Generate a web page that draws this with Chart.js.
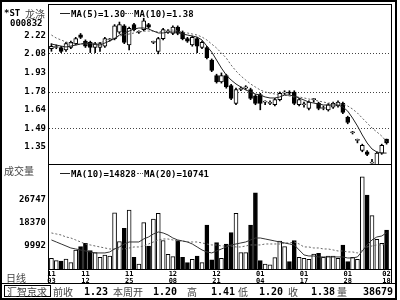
<!DOCTYPE html>
<html>
<head>
<meta charset="utf-8">
<script src="https://cdn.jsdelivr.net/npm/chart.js@4"></script>
<style>
body{margin:0;width:400px;height:300px;position:relative;overflow:hidden;background:#fff}
canvas{display:block}
.b{position:absolute;background:#000}
.t{position:absolute;white-space:nowrap;line-height:1}
.n{font:bold 9px "DejaVu Sans Mono";color:#000}
.m{font:bold 10px "DejaVu Sans Mono";color:#000}
.c{font:10px "Noto Sans CJK SC";color:#444}
.sl{position:absolute;height:0;border-top:1px solid #222}
.dl{position:absolute;height:0;border-top:1px dotted #555}
</style>
</head>
<body>
<!-- frame -->
<div class="b" style="left:0;top:0;width:397px;height:2px"></div>
<div class="b" style="left:0;top:0;width:2px;height:300px"></div>
<div class="b" style="left:395px;top:0;width:2px;height:300px"></div>
<div class="b" style="left:48px;top:4px;width:344px;height:1px"></div>
<div class="b" style="left:391px;top:4px;width:1px;height:279px"></div>
<div class="b" style="left:48px;top:4px;width:1px;height:279px"></div>
<div class="b" style="left:48px;top:164px;width:343px;height:1px"></div>
<div class="b" style="left:48px;top:269px;width:343px;height:1px"></div>
<div class="b" style="left:0;top:283px;width:397px;height:1px"></div>
<div class="b" style="left:0;top:298px;width:397px;height:2px"></div>

<div style="position:absolute;left:0;top:5px;width:392px;height:159px"><canvas id="pc" width="392" height="159"></canvas></div>
<div style="position:absolute;left:0;top:165px;width:392px;height:118px"><canvas id="vc" width="392" height="118"></canvas></div>

<!-- left labels -->
<div class="t n" style="left:4px;top:8px">*ST</div>
<div class="t c" style="left:25px;top:6px">龙涤</div>
<div class="t n" style="left:10px;top:18px">000832</div>
<div class="t c" style="left:4px;top:163px">成交量</div>
<div class="t c" style="left:6px;top:270px">日线</div>

<!-- legends -->
<div class="sl" style="left:60px;top:13px;width:10px"></div>
<div class="t n" style="left:71px;top:9px">MA(5)=1.30</div>
<div class="dl" style="left:125px;top:13px;width:8px"></div>
<div class="t n" style="left:134px;top:9px">MA(10)=1.38</div>

<div class="sl" style="left:60px;top:173px;width:10px"></div>
<div class="t n" style="left:71px;top:169px">MA(10)=14828</div>
<div class="dl" style="left:137px;top:173px;width:6px"></div>
<div class="t n" style="left:144px;top:169px">MA(20)=10741</div>

<!-- status bar -->
<div style="position:absolute;left:4px;top:285px;width:45px;height:10px;border:1px solid #000"></div>
<div class="t c" style="left:7px;top:284px">汇智京求</div>
<div class="t c" style="left:53px;top:284px">前收</div>
<div class="t m" style="left:84px;top:286px">1.23</div>
<div class="t c" style="left:113px;top:284px">本周开</div>
<div class="t m" style="left:153px;top:286px">1.20</div>
<div class="t c" style="left:187px;top:284px">高</div>
<div class="t m" style="left:211px;top:286px">1.41</div>
<div class="t c" style="left:238px;top:284px">低</div>
<div class="t m" style="left:259px;top:286px">1.20</div>
<div class="t c" style="left:288px;top:284px">收</div>
<div class="t m" style="left:311px;top:286px">1.38</div>
<div class="t c" style="left:337px;top:284px">量</div>
<div class="t m" style="left:363px;top:286px">38679</div>

<script>
// daily candles, 2004-11-03 .. 2005-02-18
const opens = [2.12,2.13,2.13,2.11,2.13,2.16,2.23,2.18,2.17,2.13,
  2.13,2.14,2.19,2.20,2.25,2.30,2.15,2.31,2.25,2.27,
  2.31,2.17,2.10,2.20,2.25,2.24,2.29,2.25,2.20,2.15,
  2.20,2.13,2.13,2.03,1.91,1.86,1.91,1.83,1.69,1.80,
  1.81,1.80,1.75,1.76,1.70,1.69,1.68,1.72,1.77,1.78,
  1.78,1.68,1.68,1.65,1.72,1.69,1.65,1.64,1.66,1.67,
  1.69,1.58,1.46,1.40,1.32,1.31,1.22,1.20,1.30,1.41];
const closes = [2.14,2.13,2.10,2.16,2.17,2.20,2.21,2.14,2.13,2.16,
  2.16,2.20,2.19,2.30,2.31,2.17,2.28,2.27,2.25,2.34,
  2.29,2.17,2.20,2.27,2.26,2.29,2.24,2.20,2.18,2.21,
  2.14,2.17,2.05,1.95,1.86,1.91,1.82,1.73,1.80,1.81,
  1.82,1.73,1.69,1.69,1.70,1.69,1.72,1.77,1.78,1.77,
  1.69,1.72,1.68,1.70,1.72,1.65,1.65,1.68,1.69,1.70,
  1.62,1.54,1.46,1.40,1.36,1.29,1.23,1.30,1.36,1.38];
const highs = [2.16,2.15,2.14,2.17,2.18,2.21,2.24,2.19,2.18,2.17,
  2.17,2.21,2.20,2.31,2.33,2.31,2.29,2.32,2.26,2.36,
  2.32,2.18,2.21,2.28,2.27,2.30,2.30,2.26,2.21,2.22,
  2.21,2.18,2.14,2.04,1.92,1.93,1.92,1.84,1.81,1.82,
  1.83,1.81,1.76,1.77,1.71,1.71,1.73,1.78,1.79,1.79,
  1.79,1.73,1.70,1.71,1.73,1.70,1.67,1.69,1.70,1.71,
  1.70,1.59,1.47,1.41,1.37,1.32,1.25,1.31,1.37,1.41];
const lows = [2.10,2.12,2.09,2.10,2.12,2.15,2.20,2.13,2.09,2.09,
  2.10,2.13,2.18,2.19,2.24,2.16,2.11,2.26,2.24,2.26,
  2.28,2.16,2.08,2.19,2.24,2.23,2.23,2.19,2.17,2.14,
  2.09,2.12,2.04,1.94,1.85,1.85,1.81,1.72,1.68,1.79,
  1.80,1.72,1.68,1.64,1.68,1.68,1.67,1.71,1.76,1.76,
  1.68,1.67,1.66,1.64,1.70,1.64,1.64,1.63,1.65,1.66,
  1.61,1.53,1.45,1.38,1.31,1.28,1.22,1.20,1.29,1.37];
const ma5 = [2.157,2.149,2.141,2.134,2.141,2.149,2.157,2.165,2.161,2.153,
  2.149,2.165,2.181,2.200,2.228,2.244,2.259,2.275,2.283,2.283,
  2.275,2.259,2.244,2.244,2.251,2.251,2.251,2.236,2.228,2.220,
  2.212,2.189,2.141,2.094,2.031,1.968,1.913,1.874,1.843,1.819,
  1.796,1.780,1.764,1.756,1.741,1.733,1.733,1.741,1.756,1.756,
  1.748,1.733,1.717,1.701,1.693,1.686,1.678,1.678,1.678,1.678,
  1.662,1.630,1.575,1.513,1.442,1.379,1.332,1.308,1.300,1.300];
const ma10 = [2.228,2.204,2.189,2.173,2.165,2.157,2.157,2.157,2.161,2.165,
  2.165,2.181,2.192,2.204,2.220,2.228,2.236,2.244,2.251,2.259,
  2.259,2.259,2.251,2.259,2.267,2.267,2.259,2.251,2.244,2.236,
  2.228,2.212,2.189,2.157,2.126,2.086,2.047,1.992,1.945,1.906,
  1.874,1.843,1.819,1.796,1.780,1.772,1.764,1.756,1.756,1.748,
  1.741,1.741,1.733,1.725,1.717,1.709,1.701,1.693,1.693,1.686,
  1.686,1.670,1.646,1.615,1.575,1.536,1.497,1.466,1.434,1.390];
const volume = [5530,4650,4540,5270,3920,8550,9750,10970,8290,7560,
  5890,6730,6360,22120,11570,16440,23110,5890,3450,18480,
  10000,19830,21900,12000,6980,6110,11930,5890,3920,5160,
  6360,3920,17650,4910,11210,5520,10730,14850,21900,7570,
  7570,17650,29400,4650,3450,3090,5750,11820,9750,4290,
  11930,5890,5520,5160,7090,7330,5890,6360,6360,5520,
  10370,4290,5890,5160,35230,28570,21040,12440,10970,15830];
const volMa10 = [12190,11460,10730,10000,9270,8910,8550,8180,7820,7460,
  7460,7460,7820,8910,9640,10730,11460,11460,11460,12550,
  13280,14370,15100,14740,14010,12910,12190,11820,11460,10730,
  9640,8550,7820,7460,8180,8910,9640,10370,10730,11100,
  11460,12190,12910,12910,12550,12190,11820,11460,11100,10730,
  10370,8550,6730,6360,6360,6000,6000,6000,6000,6000,
  6000,5630,5630,6000,8180,10370,12190,13280,13640,14828];
const volMa20 = [14740,14370,14010,13280,12910,12190,11460,10730,10370,10000,
  9640,9270,8910,8910,8910,8910,9270,9640,9640,10000,
  10730,11460,12190,12550,12550,12190,11820,11820,11460,11460,
  11460,11100,10730,10370,10370,10000,10000,10000,9640,9640,
  10000,10370,10370,10370,10730,10730,10730,10730,11100,11100,
  11460,10730,9640,9640,9270,9270,8910,8910,8550,8180,
  8180,7820,7820,7460,8550,9640,10000,10370,10370,10741];

const priceTicks = [2.22, 2.08, 1.93, 1.78, 1.64, 1.49, 1.35];
const priceGrid = [2.08, 1.78, 1.49];
const volTicks = [9992, 18370, 26747];
const dateIdx = [0, 7, 16, 25, 34, 43, 52, 61, 69];
const dateMonth = ['11','11','11','12','12','01','01','01','02'];
const dateDay = ['03','12','25','08','21','04','17','28','18'];

const labels = closes.map((c, i) => String(i));
const up = closes.map((c, i) => c >= opens[i]);
const tickFont = {family: 'DejaVu Sans Mono', size: 9, weight: 'bold'};

function fixY(s) {
  s.width = 49;
  s.paddingTop = 0;
  s.paddingBottom = 0;
}

const common = {
  responsive: false,
  animation: false,
  events: [],
  layout: {padding: {right: 3}},
  plugins: {legend: {display: false}, tooltip: {enabled: false}}
};

new Chart(document.getElementById('pc'), {
  type: 'bar',
  data: {
    labels: labels,
    datasets: [
      {type: 'line', data: ma5, borderColor: '#222', borderWidth: 1, pointRadius: 0, order: 0},
      {type: 'line', data: ma10, borderColor: '#666', borderWidth: 1, borderDash: [2, 2], pointRadius: 0, order: 0},
      {data: opens.map((o, i) => [o, closes[i]]), backgroundColor: up.map(u => u ? '#fff' : '#000'),
        borderColor: '#000', borderWidth: 1, borderSkipped: false, barThickness: 4, grouped: false, minBarLength: 1, order: 1},
      {data: lows.map((l, i) => [l, highs[i]]), backgroundColor: '#000', barThickness: 1, grouped: false, order: 2}
    ]
  },
  options: Object.assign({}, common, {
    scales: {
      x: {display: false},
      y: {
        min: 1.214, max: 2.464,
        afterBuildTicks: s => { s.ticks = priceTicks.map(v => ({value: v})); },
        afterFit: fixY,
        ticks: {callback: v => v.toFixed(2), font: tickFont, color: '#000', padding: 3},
        grid: {drawTicks: false, color: c => (c.tick && priceGrid.includes(c.tick.value)) ? '#444' : 'rgba(0,0,0,0)'},
        border: {display: false, dash: [1, 2]}
      }
    }
  })
});

new Chart(document.getElementById('vc'), {
  type: 'bar',
  data: {
    labels: labels,
    datasets: [
      {type: 'line', data: volMa10, borderColor: '#333', borderWidth: 1, pointRadius: 0, order: 0},
      {type: 'line', data: volMa20, borderColor: '#666', borderWidth: 1, borderDash: [2, 2], pointRadius: 0, order: 0},
      {data: volume, backgroundColor: up.map(u => u ? '#fff' : '#000'), borderColor: '#000',
        borderWidth: 1, borderSkipped: false, barThickness: 4, order: 1}
    ]
  },
  options: Object.assign({}, common, {
    scales: {
      x: {
        afterFit: s => { s.height = 14; s.paddingLeft = 0; s.paddingRight = 0; },
        grid: {display: false, drawTicks: false},
        border: {display: false},
        ticks: {
          autoSkip: false, maxRotation: 0, minRotation: 0, padding: 2, color: '#000',
          font: {family: 'DejaVu Sans Mono', size: 7, weight: 'bold', lineHeight: 0.95},
          callback: (v, i) => {
            const k = dateIdx.indexOf(i);
            return k < 0 ? '' : [dateMonth[k], dateDay[k]];
          }
        }
      },
      y: {
        min: 1614, max: 39500,
        afterBuildTicks: s => { s.ticks = volTicks.map(v => ({value: v})); },
        afterFit: fixY,
        ticks: {callback: v => String(v), font: tickFont, color: '#000', padding: 3},
        grid: {display: false, drawTicks: false},
        border: {display: false}
      }
    }
  })
});
</script>
</body>
</html>
